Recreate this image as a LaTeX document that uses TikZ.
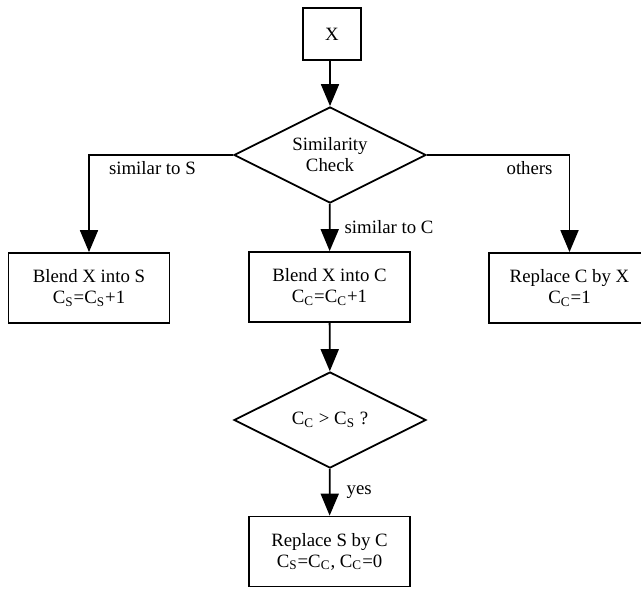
\documentclass[tikz,border=0pt]{standalone}
\usepackage{fontspec}
\setmainfont{Liberation Serif}
\usetikzlibrary{shapes.geometric,arrows.meta}

\begin{document}
\begin{tikzpicture}[every node/.style={font=\fontsize{9.4}{10.5}\selectfont}, x=0.5pt, y=-0.5pt,
	box/.style={draw, line width=0.9pt, minimum width=80.5pt, minimum height=35pt, align=center, inner sep=0pt},
	check/.style={draw, line width=0.9pt, diamond, aspect=2, minimum width=96pt, minimum height=48pt, align=center, inner sep=0pt},
	arr/.style={line width=0.9pt, -{Triangle[width=9pt,length=11pt]}},
	lbl/.style={inner sep=3pt}]
	\clip (0,0) rectangle (641,589);
	\node[box, minimum width=29pt, minimum height=26pt] (x) at (332,34) {X};
	\node[check] (sim) at (330,155) {Similarity\\Check};
	\node[box] (blends) at (89,288) {Blend X into S\\C\textsubscript{S}=C\textsubscript{S}+1};
	\node[box] (blendc) at (329.5,287) {Blend X into C\\C\textsubscript{C}=C\textsubscript{C}+1};
	\node[box] (repc) at (569.5,288) {Replace C by X\\C\textsubscript{C}=1};
	\node[check] (cmp) at (330,420) {C\textsubscript{C} > C\textsubscript{S} ?};
	\node[box] (reps) at (329.5,551.5) {Replace S by C\\C\textsubscript{S}=C\textsubscript{C}, C\textsubscript{C}=0};
	% connectors
	\draw[arr] (x.south -| sim.north) -- (sim.north);
	\draw[arr] (sim.west) -| node[lbl, below, pos=0.28] {similar to S} (blends);
	\draw[arr] (sim.east) -| node[lbl, below, pos=0.36] {others} (repc);
	\draw[arr] (sim) -- node[lbl, right, inner sep=7pt] {similar to C} (blendc);
	\draw[arr] (blendc) -- (cmp);
	\draw[arr] (cmp) -- node[lbl, right, inner sep=8pt] {yes} (reps);
\end{tikzpicture}
\end{document}
